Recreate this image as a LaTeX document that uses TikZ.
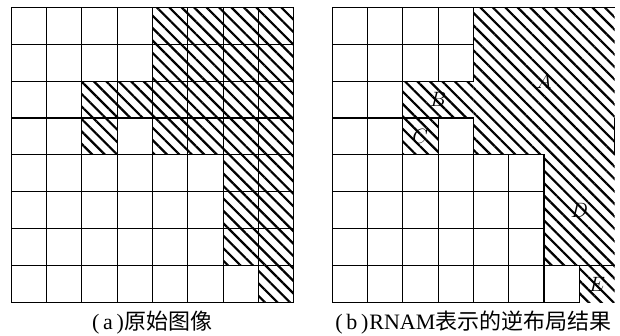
\documentclass[tikz,border=0pt]{standalone}
\usepackage{fontspec}
\newfontfamily\latin{Liberation Serif}
\newfontfamily\cjk{Noto Sans CJK SC}
\usetikzlibrary{patterns.meta}
\tikzset{
  hatch/.style={pattern={Lines[angle=-45,distance=8.8pt,line width=2.2pt]}},
  celledge/.style={line width=1.1pt},
  lbl/.style={font=\fontsize{20}{24}\selectfont},
  subcap/.style={font=\fontsize{22}{26}\selectfont\latin}
}
\begin{document}
\begin{tikzpicture}[x=35.3pt,y=-36.9pt]
  \useasboundingbox (-11.3pt,7.3pt) rectangle (608.7pt,-328.7pt);
  % (a) every pixel is a cell of its own, object cells hatched
  \begin{scope}[shift={(0,0)}]
    \foreach \c/\r in {4/0,5/0,6/0,7/0,4/1,5/1,6/1,7/1,
                       2/2,3/2,4/2,5/2,6/2,7/2,2/3,4/3,5/3,6/3,7/3,
                       6/4,7/4,6/5,7/5,6/6,7/6,7/7}
      \fill[hatch] (\c,\r) rectangle ++(1,1);
    \foreach \r in {0,...,7}
      \foreach \c in {0,...,7}
        \draw[celledge] (\c,\r) rectangle ++(1,1);
    \node[subcap] (capa) at (4,8.54) {(\,a\,)\kern1pt{\cjk 原始图像}};
  \end{scope}

  % (b) the rectangles A--E merged, only background cells keep their edges
  \begin{scope}[shift={(9.09,0)}]
    \fill[hatch] (4,0) -- (8,0) -- (8,7) -- (6,7) -- (6,4) -- (4,4) -- cycle;
    \fill[hatch] (2,2) -- (4,2) -- (4,3) -- (3,3) -- (3,4) -- (2,4) -- cycle;
    \fill[hatch] (7,7) rectangle (8,8);

    \foreach \r in {0,1}
      \foreach \c in {0,...,3}
        \draw[celledge] (\c,\r) rectangle ++(1,1);
    \foreach \c in {0,1}
      \draw[celledge] (\c,2) rectangle ++(1,1);
    \foreach \c in {0,1,3}
      \draw[celledge] (\c,3) rectangle ++(1,1);
    \foreach \r in {4,5,6}
      \foreach \c in {0,...,5}
        \draw[celledge] (\c,\r) rectangle ++(1,1);
    \foreach \c in {0,...,6}
      \draw[celledge] (\c,7) rectangle ++(1,1);
    \draw[celledge] (4,0) -- (8,0) (2,3) -- (3,3) (7,7) -- (8,7) (8,3) -- (8,4);

    \node[lbl] (A) at (6,2) {$A$};
    \node[lbl] (B) at (3,2.5) {$B$};
    \node[lbl] (C) at (2.5,3.5) {$C$};
    \node[lbl] (D) at (7,5.5) {$D$};
    \node[lbl] (E) at (7.5,7.5) {$E$};
    \node[subcap] (capb) at (4,8.54) {(\,b\,)\kern1pt RNAM{\cjk 表示的逆布局结果}};
  \end{scope}
\end{tikzpicture}
\end{document}
